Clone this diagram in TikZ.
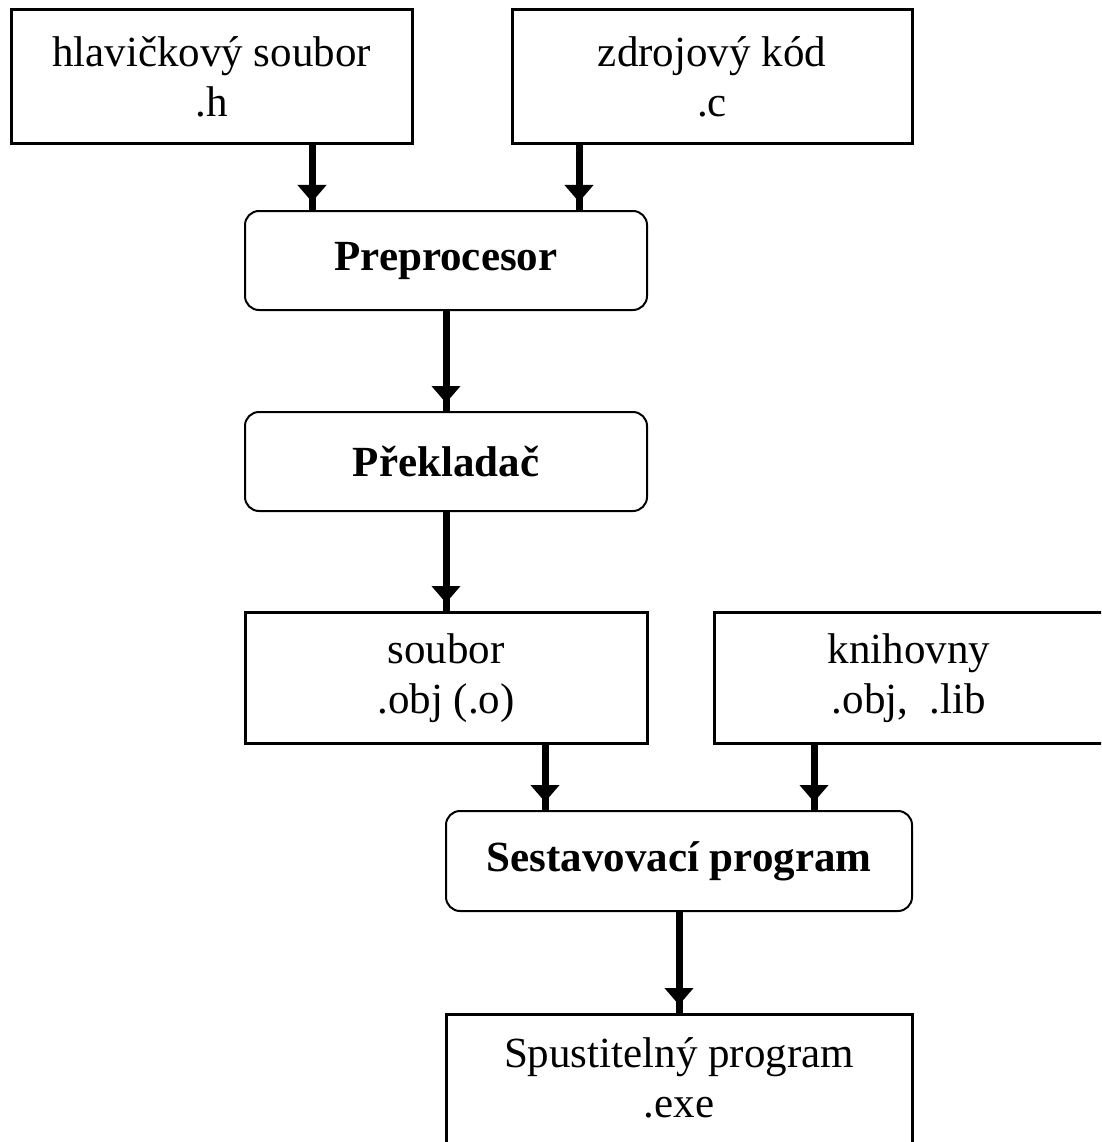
\documentclass[tikz,border=0pt]{standalone}
\usepackage{fontspec}
\setmainfont{Liberation Serif}
\usetikzlibrary{arrows.meta}
\begin{document}
\begin{tikzpicture}[x=1pt,y=-1pt,
  sqbox/.style={draw=black,line width=3pt,rectangle,inner sep=0pt,align=center,
    font=\fontsize{43}{50}\selectfont},
  rbox/.style={draw=black,line width=2pt,rectangle,rounded corners=14pt,inner sep=0pt,
    align=center,font=\fontsize{43}{50}\selectfont\bfseries},
  txt/.style={inner sep=0pt,align=center,font=\fontsize{43}{50}\selectfont},
  conn/.style={line width=7pt,draw=black,
    -{Triangle[width=28pt,length=17pt,sep=0pt]Rectangle[width=7pt,length=8pt,sep=0pt]}}]
\useasboundingbox (0,0) rectangle (1101,1142);
\fill[white] (0,0) rectangle (1101,1142);
\clip (0,0) rectangle (1101,1142);
% boxes
\node[sqbox,minimum width=401pt,minimum height=134pt] (hlav) at (211.5,77) {hlavičkový soubor\\.h};
\node[sqbox,minimum width=400pt,minimum height=134pt] (zdroj) at (712,77) {zdrojový kód\\.c};
\node[rbox,minimum width=402pt,minimum height=99pt] (prep) at (446,260.5) {Preprocesor};
\node[rbox,minimum width=402pt,minimum height=99pt] (prek) at (446,461.5) {Překladač};
\node[sqbox,minimum width=402pt,minimum height=131pt] (soub) at (446,678) {soubor\\.obj (.o)};
\node[sqbox,minimum width=390pt,minimum height=131pt] (knih) at (909,678) {knihovny\\.obj,\ \ .lib};
\node[rbox,minimum width=466pt,minimum height=100pt] (sest) at (679,861) {Sestavovací program};
\node[sqbox,minimum width=466pt,minimum height=170pt,anchor=north] (spust) at (679,1013) {};
\node[txt] (spusttxt) at (679,1078) {Spustitelný program\\.exe};
% arrow columns
\coordinate (c1) at (312,0);
\coordinate (c2) at (579,0);
\coordinate (c3) at (446,0);
\coordinate (c4) at (545,0);
\coordinate (c5) at (814,0);
\coordinate (c6) at (679,0);
% connectors
\draw[conn] (hlav.south -| c1) -- (prep.north -| c1);
\draw[conn] (zdroj.south -| c2) -- (prep.north -| c2);
\draw[conn] (prep.south -| c3) -- (prek.north -| c3);
\draw[conn] (prek.south -| c3) -- (soub.north -| c3);
\draw[conn] (soub.south -| c4) -- (sest.north -| c4);
\draw[conn] (knih.south -| c5) -- (sest.north -| c5);
\draw[conn] (sest.south -| c6) -- (spust.north -| c6);
\end{tikzpicture}
\end{document}
